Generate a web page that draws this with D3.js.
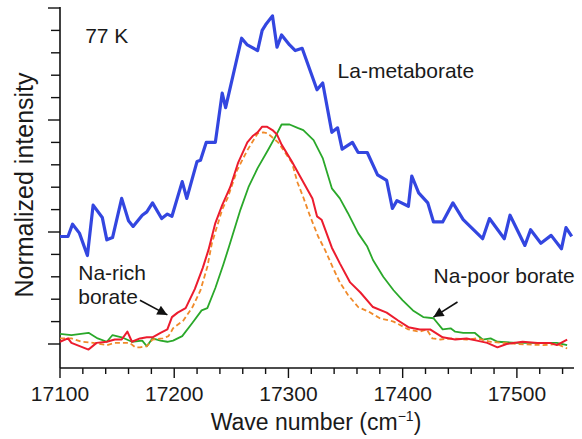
<!DOCTYPE html>
<html>
<head>
  <meta charset="utf-8">
  <style>
	  body { margin: 0; background: white; }
	  text { font-family: "Liberation Sans", Arial, sans-serif; fill: #1a1a1a; }
  </style>
</head>
<body>
	<div id="chart"></div>
<script src="https://d3js.org/d3.v7.min.js"></script>
<script>
	// La-metaborate (blue)
	const blueX = [17100,17107,17111,17117,17124,17129,17137,17141,17146,17154,17160,17164,17172,17176,17181,17189,17194,17198,17207,17211,17220,17223,17228,17236,17242,17245,17259,17264,17273,17277,17280,17286,17290,17294,17301,17306,17312,17325,17330,17338,17343,17347,17356,17361,17369,17378,17386,17391,17395,17405,17408,17414,17422,17427,17435,17444,17453,17470,17476,17489,17494,17507,17512,17521,17530,17539,17543,17548];
	const blueY = [0.96,0.96,1.07,0.99,0.79,1.24,1.13,0.93,0.95,1.30,1.10,1.05,1.15,1.18,1.26,1.12,1.16,1.14,1.45,1.30,1.63,1.64,1.80,1.80,2.24,2.11,2.73,2.67,2.62,2.80,2.85,2.93,2.65,2.76,2.67,2.62,2.64,2.27,2.33,1.89,1.93,1.74,1.80,1.71,1.71,1.51,1.46,1.21,1.28,1.23,1.50,1.35,1.26,1.09,1.09,1.26,1.11,0.94,1.12,0.94,1.15,0.88,1.02,0.90,0.97,0.85,1.04,0.96];

	// Na-rich borate (red)
	const redX = [17100,17107,17110,17125,17132,17141,17148,17154,17159,17163,17170,17176,17181,17188,17194,17198,17203,17210,17218,17225,17230,17236,17242,17249,17256,17264,17269,17273,17277,17281,17286,17290,17294,17303,17310,17321,17325,17329,17338,17345,17354,17363,17374,17386,17396,17405,17415,17424,17435,17446,17456,17465,17474,17483,17491,17505,17518,17529,17535,17544];
	const redY = [0.02,0.05,0.01,-0.05,0.01,0.02,0.04,0.04,0.11,0.02,0.05,0.06,0.06,0.10,0.13,0.24,0.28,0.32,0.49,0.68,0.84,1.08,1.24,1.40,1.62,1.80,1.86,1.89,1.94,1.94,1.91,1.87,1.78,1.63,1.50,1.30,1.14,1.11,0.86,0.72,0.55,0.46,0.33,0.28,0.21,0.15,0.13,0.13,0.06,0.04,0.05,0.03,0.01,-0.03,0.00,0.02,0.01,0.01,-0.01,0.04];

	// Na-rich borate, second spectrum (orange dashed)
	const orangeX = [17100,17110,17119,17129,17141,17148,17161,17166,17170,17176,17181,17190,17195,17199,17208,17216,17223,17229,17233,17242,17247,17255,17264,17273,17278,17282,17291,17297,17303,17308,17313,17319,17326,17332,17339,17345,17352,17361,17370,17380,17392,17405,17415,17421,17426,17433,17444,17456,17465,17477,17500,17523,17535,17544];
	const orangeY = [0.05,0.05,0.02,0.01,-0.01,0.01,0.01,-0.03,-0.03,-0.02,0.04,0.05,0.07,0.14,0.21,0.33,0.48,0.69,0.90,1.20,1.31,1.55,1.73,1.88,1.89,1.88,1.80,1.71,1.62,1.44,1.31,1.14,0.96,0.84,0.68,0.55,0.44,0.33,0.29,0.23,0.20,0.13,0.11,0.13,0.05,0.04,0.05,0.04,0.05,0.02,0.00,-0.01,0.00,-0.04];

	// Na-poor borate (green)
	const greenX = [17100,17110,17125,17133,17141,17146,17154,17163,17172,17176,17181,17188,17194,17199,17207,17216,17224,17229,17236,17243,17248,17258,17265,17273,17282,17288,17294,17301,17308,17313,17322,17330,17338,17345,17352,17361,17369,17374,17383,17392,17400,17409,17418,17427,17435,17442,17446,17453,17463,17470,17477,17483,17500,17512,17523,17535,17544];
	const greenY = [0.09,0.08,0.10,0.05,0.02,0.08,0.06,0.02,0.03,-0.02,0.05,0.03,0.02,0.03,0.07,0.19,0.30,0.32,0.50,0.71,0.87,1.20,1.40,1.57,1.73,1.84,1.96,1.96,1.93,1.91,1.82,1.66,1.39,1.30,1.17,0.99,0.87,0.75,0.60,0.48,0.39,0.30,0.24,0.23,0.13,0.14,0.11,0.10,0.10,0.04,0.05,0.02,0.01,0.01,0.01,0.01,-0.01];

	const xTicks = d3.range(17100, 17541, 20);
	const xLabels = [17100, 17200, 17300, 17400, 17500];
	const yTicks = d3.range(0, 3.01, 0.2);

	const labels = [
		{ text: "77 K", x: 17122, y: 2.69 },
		{ text: "La-metaborate", x: 17343, y: 2.375 },
		{ text: "Na-rich", x: 17116, y: 0.57 },
		{ text: "borate", x: 17116, y: 0.36 },
		{ text: "Na-poor borate", x: 17427, y: 0.545 }
	];
	const arrows = [
		{ x1: 17170, y1: 0.39, x2: 17194, y2: 0.26 },
		{ x1: 17448, y1: 0.375, x2: 17427, y2: 0.24 }
	];

	const width = 582;
	const height = 439;
	const svg = d3.select('#chart')
		.append('svg')
		.attr('width', width)
		.attr('height', height);

	const x = d3.scaleLinear().domain([17100, 17550]).range([60, 574]);
	const y = d3.scaleLinear().domain([-0.2143, 3.009]).range([368, 7]);

	// x axis
	const xAxis = svg.append('g').attr('transform', 'translate(0,368)');
	xAxis.append('line')
		.attr('x1', x(17100)).attr('x2', x(17550))
		.attr('stroke', '#111').attr('stroke-width', 1.6);
	xAxis.selectAll('.tick')
		.data(xTicks)
		.enter()
		.append('line')
		.attr('x1', d => x(d)).attr('x2', d => x(d))
		.attr('y1', 0)
		.attr('y2', d => d % 100 === 0 ? 10 : 6)
		.attr('stroke', '#111').attr('stroke-width', 1.4);
	xAxis.selectAll('.lab')
		.data(xLabels)
		.enter()
		.append('text')
		.attr('x', d => x(d))
		.attr('y', 33)
		.attr('text-anchor', 'middle')
		.style('font-size', '21px')
		.text(d => d);

	const xTitle = svg.append('text')
		.attr('x', 316)
		.attr('y', 430)
		.attr('text-anchor', 'middle')
		.style('font-size', '23px');
	xTitle.append('tspan').text('Wave number (cm');
	xTitle.append('tspan').attr('dy', -9).style('font-size', '14px').text('\u22121');
	xTitle.append('tspan').attr('dy', 9).text(')');

	// y axis
	const yAxis = svg.append('g').attr('transform', 'translate(60,0)');
	yAxis.append('line')
		.attr('y1', 368).attr('y2', 7)
		.attr('stroke', '#111').attr('stroke-width', 1.6);
	yAxis.selectAll('.tick')
		.data(yTicks)
		.enter()
		.append('line')
		.attr('y1', d => y(d)).attr('y2', d => y(d))
		.attr('x1', 0)
		.attr('x2', (d, i) => i % 5 === 0 ? -12 : -9)
		.attr('stroke', '#111').attr('stroke-width', 1.4);

	svg.append('text')
		.attr('transform', 'translate(33,185) rotate(-90)')
		.attr('text-anchor', 'middle')
		.style('font-size', '25px')
		.text('Normalized intensity');

	const line = d3.line()
		.x(d => x(d[0]))
		.y(d => y(d[1]));

	const series = [
		{ xs: blueX, ys: blueY, color: '#3346e0', w: 3.2, dash: null },
		{ xs: greenX, ys: greenY, color: '#2aa82a', w: 1.8, dash: null },
		{ xs: orangeX, ys: orangeY, color: '#f08a2a', w: 1.8, dash: '5,3' },
		{ xs: redX, ys: redY, color: '#ec1c2e', w: 2, dash: null }
	];
	series.forEach(s => {
		svg.append('path')
			.datum(d3.zip(s.xs, s.ys))
			.attr('d', line)
			.attr('fill', 'none')
			.attr('stroke', s.color)
			.attr('stroke-width', s.w)
			.attr('stroke-linejoin', 'round')
			.attr('stroke-dasharray', s.dash);
	});

	svg.selectAll('.label')
		.data(labels)
		.enter()
		.append('text')
		.attr('x', d => x(d.x))
		.attr('y', d => y(d.y))
		.style('font-size', '21px')
		.text(d => d.text);

	svg.append('defs').append('marker')
		.attr('id', 'head')
		.attr('viewBox', '0 0 10 10')
		.attr('refX', 10).attr('refY', 5)
		.attr('markerWidth', 13).attr('markerHeight', 10)
		.attr('markerUnits', 'userSpaceOnUse')
		.attr('orient', 'auto')
		.append('path')
		.attr('d', 'M0,0 L10,5 L0,10 Z')
		.attr('fill', '#111');

	svg.selectAll('.arrow')
		.data(arrows)
		.enter()
		.append('line')
		.attr('x1', d => x(d.x1)).attr('y1', d => y(d.y1))
		.attr('x2', d => x(d.x2)).attr('y2', d => y(d.y2))
		.attr('stroke', '#111')
		.attr('stroke-width', 1.6)
		.attr('marker-end', 'url(#head)');
</script>
</body>
</html>
